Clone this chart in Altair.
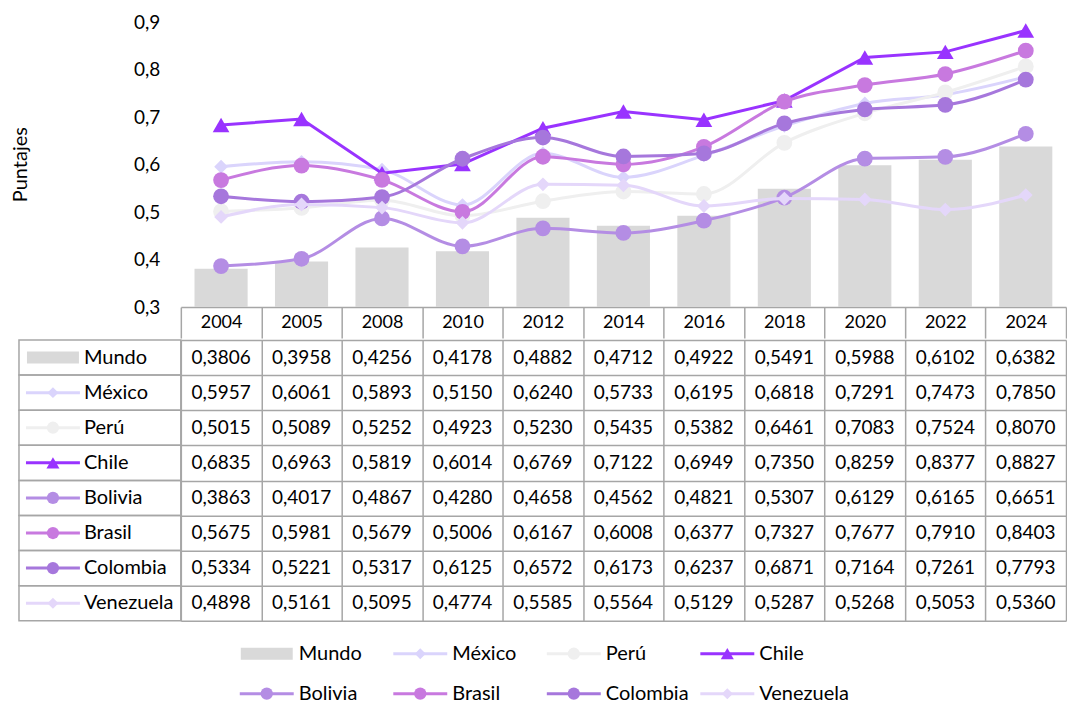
import altair as alt
import pandas as pd

years = ["2004", "2005", "2008", "2010", "2012", "2014", "2016", "2018", "2020", "2022", "2024"]
series_names = ["Mundo", "México", "Perú", "Chile", "Bolivia", "Brasil", "Colombia", "Venezuela"]

mundo = [0.3806, 0.3958, 0.4256, 0.4178, 0.4882, 0.4712, 0.4922, 0.5491, 0.5988, 0.6102, 0.6382]
mexico = [0.5957, 0.6061, 0.5893, 0.5150, 0.6240, 0.5733, 0.6195, 0.6818, 0.7291, 0.7473, 0.7850]
peru = [0.5015, 0.5089, 0.5252, 0.4923, 0.5230, 0.5435, 0.5382, 0.6461, 0.7083, 0.7524, 0.8070]
chile = [0.6835, 0.6963, 0.5819, 0.6014, 0.6769, 0.7122, 0.6949, 0.7350, 0.8259, 0.8377, 0.8827]
bolivia = [0.3863, 0.4017, 0.4867, 0.4280, 0.4658, 0.4562, 0.4821, 0.5307, 0.6129, 0.6165, 0.6651]
brasil = [0.5675, 0.5981, 0.5679, 0.5006, 0.6167, 0.6008, 0.6377, 0.7327, 0.7677, 0.7910, 0.8403]
colombia = [0.5334, 0.5221, 0.5317, 0.6125, 0.6572, 0.6173, 0.6237, 0.6871, 0.7164, 0.7261, 0.7793]
venezuela = [0.4898, 0.5161, 0.5095, 0.4774, 0.5585, 0.5564, 0.5129, 0.5287, 0.5268, 0.5053, 0.5360]

y_ticks = [0.3, 0.4, 0.5, 0.6, 0.7, 0.8, 0.9]

colors = ["#d9d9d9", "#dad4fc", "#efefef", "#9933ff", "#b48de4", "#c879df", "#a677dc", "#e4d7fa"]
shapes = ["square", "diamond", "circle", "triangle-up", "circle", "circle", "circle", "diamond"]
smooth = [False, True, True, False, True, True, True, True]

# bottom legend grid placement
legend_col = [0, 1, 2, 3, 0, 1, 2, 3]
legend_row = [0, 0, 0, 0, 1, 1, 1, 1]

values = [mundo, mexico, peru, chile, bolivia, brasil, colombia, venezuela]

FONT = "Lato"
GRID = "#a6a6a6"
FS_NUM = 19
FS_YEAR = 18
FS_NAME = 20
W = 886

rows = []
for name, vals in zip(series_names, values):
    for yr, v in zip(years, vals):
        rows.append({"serie": name, "year": yr, "v": v})
df = pd.DataFrame(rows)

x_scale = alt.Scale(domain=years, paddingInner=0, paddingOuter=0)
y_scale = alt.Scale(domain=[0.3, 0.9], zero=False, nice=False)

x_enc = alt.X(
    "year:N", sort=years, scale=x_scale,
    axis=alt.Axis(
        title=None, grid=False, domain=True, domainColor=GRID, domainWidth=1.5,
        ticks=True, tickBand="extent", tickSize=31, tickColor=GRID, tickWidth=1.5,
        labelAngle=0, labelFont=FONT, labelFontSize=FS_YEAR, labelColor="black",
        labelBaseline="middle", labelPadding=-15.5, labelOverlap=False,
    ),
)
y_enc = alt.Y(
    "v:Q", scale=y_scale,
    axis=alt.Axis(
        values=y_ticks, labelExpr="replace(format(datum.value, '.1f'), '.', ',')",
        domain=False, ticks=False, grid=False, labelPadding=21, labelFont=FONT,
        labelFontSize=FS_NUM, labelColor="black", labelFlush=False, labelOverlap=False,
        title="Puntajes", titleFont=FONT, titleFontSize=FS_NAME, titleFontWeight="normal",
        titleColor="black", titleX=-160, titleY=142, titleAngle=270,
        titleAlign="center", titleBaseline="middle",
    ),
)

layers = [
    alt.Chart(df[df.serie == "Mundo"]).mark_bar(
        color=colors[0], width=alt.RelativeBandSize(0.66)
    ).encode(x=x_enc, y=y_enc, y2=alt.datum(0.3))
]
for i in range(1, len(series_names)):
    d = df[df.serie == series_names[i]]
    layers.append(
        alt.Chart(d).mark_line(
            color=colors[i], strokeWidth=3,
            interpolate="monotone" if smooth[i] else "linear",
        ).encode(x=x_enc, y=y_enc)
    )
    size = 280 if shapes[i] == "triangle-up" else (190 if shapes[i] == "diamond" else 250)
    layers.append(
        alt.Chart(d).mark_point(
            shape=shapes[i], filled=True, size=size, color=colors[i], opacity=1, strokeWidth=0
        ).encode(x=x_enc, y=y_enc)
    )

top = alt.layer(*layers).properties(width=W, height=285)

# ---------- table ----------
tbl_y = alt.Y(
    "serie:N", sort=series_names,
    scale=alt.Scale(domain=series_names, paddingInner=0, paddingOuter=0),
    axis=alt.Axis(title=None, labels=False, ticks=False, domain=False, grid=True,
                  tickBand="extent", gridColor=GRID, gridWidth=1.5),
)
tbl_x = alt.X(
    "year:N", sort=years, scale=x_scale,
    axis=alt.Axis(title=None, labels=False, ticks=False, domain=False, grid=True,
                  tickBand="extent", gridColor=GRID, gridWidth=1.5, orient="top"),
)

values_text = alt.Chart(df).transform_calculate(
    label="replace(format(datum.v, '.4f'), '.', ',')"
).mark_text(font=FONT, fontSize=FS_NUM, color="black").encode(
    x=tbl_x, y=tbl_y, text="label:N"
)

sdf = pd.DataFrame({
    "serie": series_names, "shape": shapes, "col": legend_col, "row": legend_row,
})
color_scale = alt.Scale(domain=series_names, range=colors)
marker_sizes = {"circle": 150, "triangle-up": 170, "diamond": 120}

lab_base = alt.Chart(sdf)
lab_boxes = lab_base.mark_rect(
    fillOpacity=0, stroke=GRID, strokeWidth=1.5
).encode(x=alt.value(-162), x2=alt.value(0), y=tbl_y)
lab_mundo = lab_base.transform_filter(alt.datum.serie == "Mundo").mark_rule(
    color=colors[0], strokeWidth=12, strokeCap="butt"
).encode(x=alt.value(-154), x2=alt.value(-102), y=tbl_y)
lab_lines = lab_base.transform_filter(alt.datum.serie != "Mundo").mark_rule(
    strokeWidth=3
).encode(x=alt.value(-155), x2=alt.value(-101), y=tbl_y,
         color=alt.Color("serie:N", scale=color_scale, legend=None))
lab_pts = [
    lab_base.transform_filter(alt.datum.shape == shp).mark_point(
        shape=shp, size=sz, filled=True, opacity=1, strokeWidth=0
    ).encode(x=alt.value(-128), y=tbl_y,
             color=alt.Color("serie:N", scale=color_scale, legend=None))
    for shp, sz in marker_sizes.items()
]
lab_text = lab_base.mark_text(
    align="left", baseline="middle", font=FONT, fontSize=FS_NAME, color="black"
).encode(x=alt.value(-97), y=tbl_y, text="serie:N")

table = alt.layer(values_text, lab_boxes, lab_mundo, lab_lines, *lab_pts, lab_text).properties(
    width=W, height=281
)

# ---------- bottom legend ----------
lx = alt.X("col:Q", scale=alt.Scale(domain=[0, 3], range=[60, 521]), axis=None)
lx2 = alt.X2("col:Q")
ly = alt.Y("row:Q", scale=alt.Scale(domain=[0, 1], range=[32, 72]), axis=None)

leg_mundo = lab_base.transform_filter(alt.datum.serie == "Mundo").mark_rule(
    color=colors[0], strokeWidth=12, strokeCap="butt", x2Offset=52
).encode(x=lx, x2=lx2, y=ly)
leg_lines = lab_base.transform_filter(alt.datum.serie != "Mundo").mark_rule(
    strokeWidth=3, x2Offset=53, xOffset=-1
).encode(x=lx, x2=lx2, y=ly,
         color=alt.Color("serie:N", scale=color_scale, legend=None))
leg_pts = [
    lab_base.transform_filter(alt.datum.shape == shp).mark_point(
        shape=shp, size=sz, filled=True, opacity=1, strokeWidth=0, xOffset=26
    ).encode(x=lx, y=ly,
             color=alt.Color("serie:N", scale=color_scale, legend=None))
    for shp, sz in marker_sizes.items()
]
leg_text = lab_base.mark_text(
    align="left", baseline="middle", font=FONT, fontSize=FS_NAME, color="black", dx=58
).encode(x=lx, y=ly, text="serie:N")

legend_chart = alt.layer(leg_mundo, leg_lines, *leg_pts, leg_text).properties(
    width=700, height=82
)

chart = alt.vconcat(top, table, legend_chart, spacing=0).properties(
    padding={"left": 11, "top": 13, "right": 0, "bottom": 0}
).configure(font=FONT).configure_view(strokeWidth=0)

chart.save("out.html", embed_options={"renderer": "svg", "actions": False})
